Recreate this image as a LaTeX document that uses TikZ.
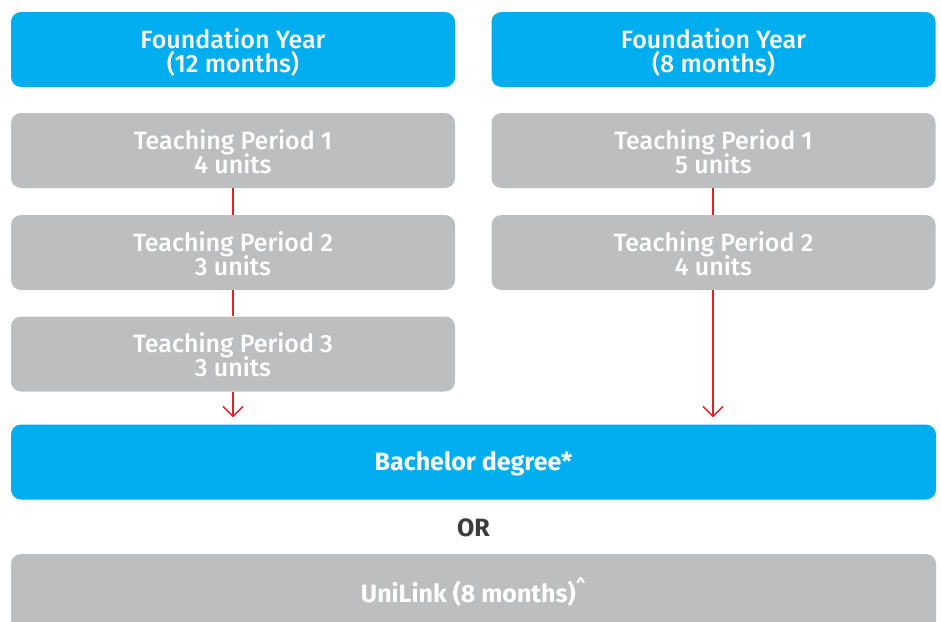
\documentclass[tikz,border=0pt]{standalone}
\usepackage{fontspec}
\setmainfont{Fira Sans}
\newfontfamily\medfont{Fira Sans Medium}
\newcommand{\boxfont}{\fontsize{25}{24}\selectfont\medfont\lineskiplimit=-20pt\relax}
\usetikzlibrary{arrows.meta}
\definecolor{fyblue}{HTML}{00AEEF}
\definecolor{tpgrey}{HTML}{BDBEC0}
\definecolor{flowred}{HTML}{E31E2D}
\definecolor{ordark}{HTML}{3C3C3C}

\begin{document}
\begin{tikzpicture}[x=1pt,y=-1pt,
        box/.style={rounded corners=10pt, minimum height=75pt, inner sep=0pt,
                    align=center, text=white, text height=45pt, text depth=0pt,
                    font=\boxfont},
        yearbox/.style={box, fill=fyblue, minimum width=444pt},
        tpbox/.style={box, fill=tpgrey, minimum width=444pt},
        widebox/.style={box, minimum width=925pt, text height=17pt, text depth=1pt,
                    font=\fontsize{25}{24}\selectfont\bfseries},
        link/.style={flowred, line width=1.3pt},
        linkarrow/.style={link, -{Straight Barb[length=10pt,width=20pt,line width=1.3pt]}, shorten >=7pt}]
  \useasboundingbox (0,0) rectangle (941,621);
  % left column: 12 months
  \node[yearbox] (fyl) at (233,49.5) {Foundation Year\\(12 months)};
  \node[tpbox] (tpl1) at (233,150.5) {Teaching Period 1\\4 units};
  \node[tpbox] (tpl2) at (233,252.5) {Teaching Period 2\\3 units};
  \node[tpbox] (tpl3) at (233,354) {Teaching Period 3\\3 units};
  % right column: 8 months
  \node[yearbox] (fyr) at (713.5,49.5) {Foundation Year\\(8 months)};
  \node[tpbox] (tpr1) at (713.5,150.5) {Teaching Period 1\\5 units};
  \node[tpbox] (tpr2) at (713.5,252.5) {Teaching Period 2\\4 units};
  % outcomes
  \node[widebox, fill=fyblue] (bach) at (473.5,462) {Bachelor degree*};
  \node[anchor=base, text=ordark, font=\fontsize{25}{24}\selectfont\bfseries] (or) at (473.5,536) {OR};
  \node[widebox, fill=tpgrey, minimum height=80pt] (uni) at (473.5,594) {UniLink (8 months)\textsuperscript{\^{}}};
  % connectors
  \draw[link] (tpl1) -- (tpl2);
  \draw[link] (tpl2) -- (tpl3);
  \draw[linkarrow] (tpl3) -- (tpl3 |- bach.north);
  \draw[link] ([xshift=-0.5pt]tpr1.south) -- ([xshift=-0.5pt]tpr2.north);
  \draw[linkarrow] ([xshift=-0.5pt]tpr2.south) -- ([xshift=-0.5pt]tpr2.south |- bach.north);
\end{tikzpicture}
\end{document}
